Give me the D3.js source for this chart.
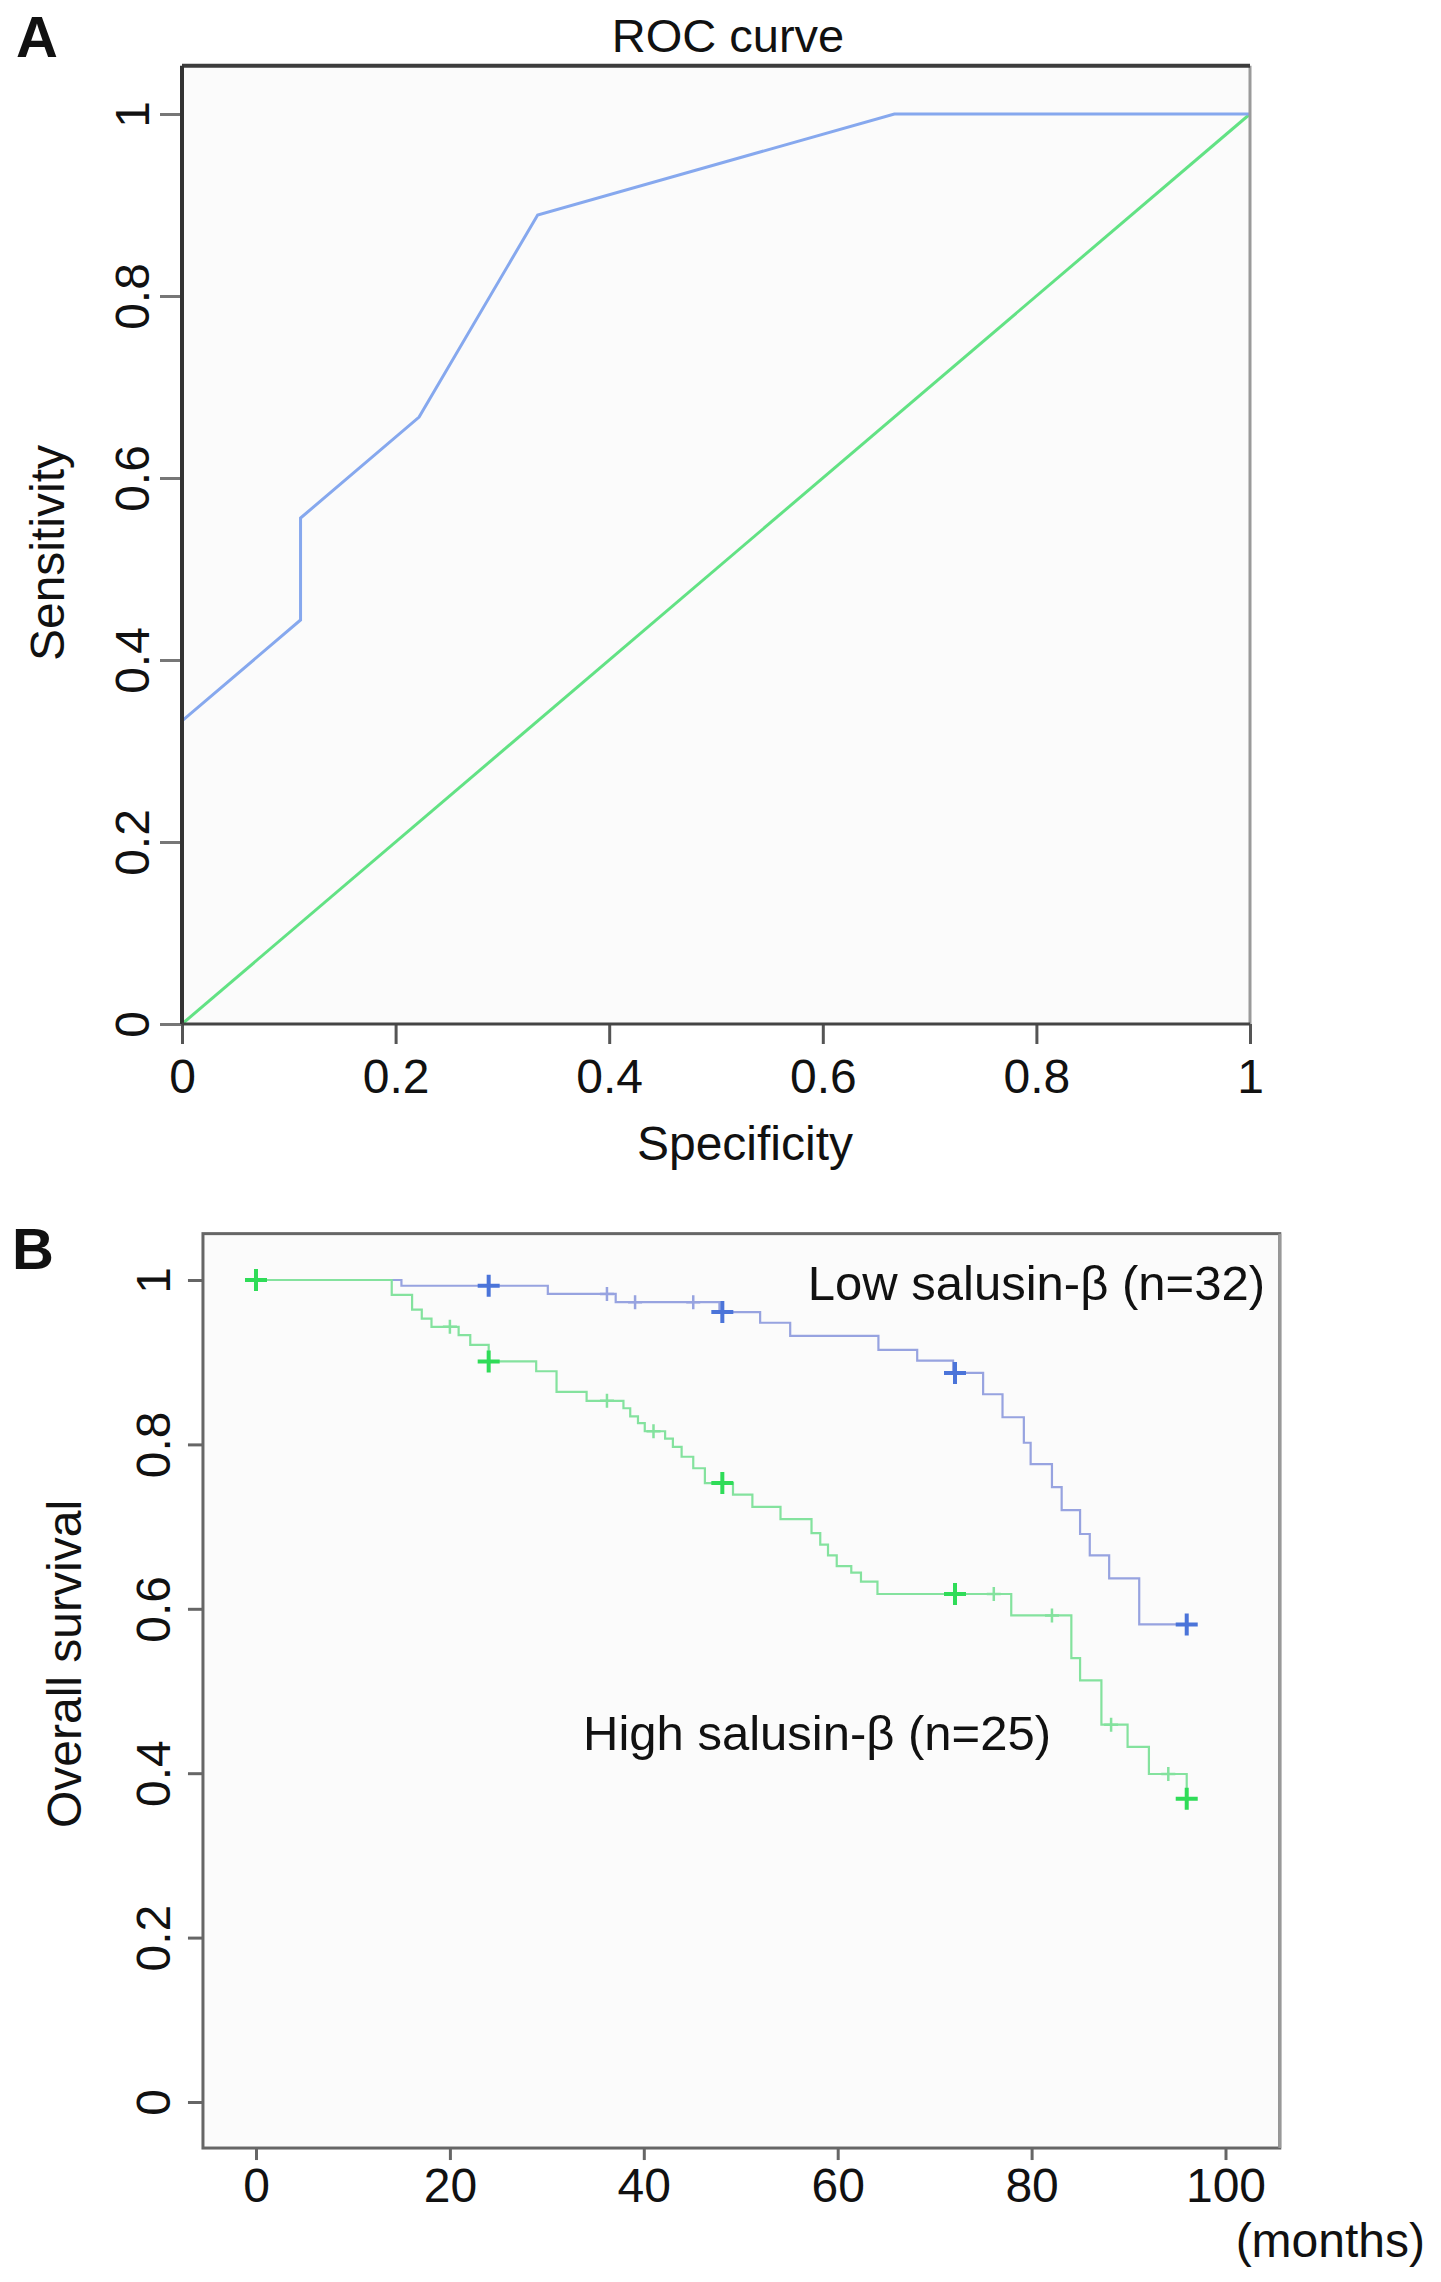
<!DOCTYPE html>
<html>
<head>
<meta charset="utf-8">
<script src="https://cdn.jsdelivr.net/npm/d3@7"></script>
<style>
    body { margin: 0; background: #ffffff; }
    text { font-family: "Liberation Sans", Arial, sans-serif; fill: #111; }
</style>
</head>
<body>
<script>
// ROC curve points (panel A)
var rocSpecificity = [0, 0, 0.111, 0.111, 0.222, 0.333, 0.667, 1];
var rocSensitivity = [0, 0.333, 0.444, 0.556, 0.667, 0.889, 1, 1];
var refSpecificity = [0, 1];
var refSensitivity = [0, 1];
var rocTicks = [0, 0.2, 0.4, 0.6, 0.8, 1];
var rocTickLabels = ["0", "0.2", "0.4", "0.6", "0.8", "1"];

// Kaplan-Meier steps (panel B)
var lowTimes = [0, 15.0, 30.1, 37.1, 47.8, 52.0, 55.1, 64.2, 68.2, 71.9, 75.0, 77.0, 79.2, 79.9, 82.1, 83.1, 85.0, 86.0, 88.0, 91.1, 96];
var lowSurv  = [1, 0.993, 0.983, 0.973, 0.961, 0.948, 0.932, 0.915, 0.902, 0.887, 0.861, 0.833, 0.802, 0.776, 0.748, 0.720, 0.691, 0.665, 0.637, 0.581, 0.581];
var lowCensor = [24, 36.2, 39.1, 45.1, 48.1, 72.1, 96];
var lowCensorBig = [true, false, false, false, true, true, true];

var highTimes = [0, 14.0, 16.1, 17.1, 18.1, 20.9, 22.1, 24.0, 28.9, 31.0, 34.1, 37.9, 38.6, 39.4, 40.1, 42.2, 43.0, 43.9, 45.1, 46.3,
                 49.2, 51.2, 54.1, 57.3, 58.2, 59.0, 59.9, 61.4, 62.4, 64.1, 77.9, 84.1, 85.0, 87.2, 89.9, 92.1, 96.0];
var highSurv  = [1, 0.982, 0.964, 0.953, 0.943, 0.933, 0.921, 0.901, 0.889, 0.864, 0.853, 0.844, 0.834, 0.826, 0.816, 0.807, 0.797, 0.785, 0.771, 0.753,
                 0.739, 0.724, 0.709, 0.692, 0.678, 0.665, 0.652, 0.644, 0.633, 0.618, 0.592, 0.540, 0.513, 0.459, 0.432, 0.399, 0.369];
var highCensor = [0, 20.0, 24.0, 36.2, 41.0, 48.1, 72.1, 76.1, 82.1, 88.2, 94.1, 96];
var highCensorBig = [true, false, true, false, false, true, true, false, false, false, false, true];

var kmTicksX = [0, 20, 40, 60, 80, 100];
var kmTicksY = [0, 0.2, 0.4, 0.6, 0.8, 1];
var kmTickLabelsY = ["0", "0.2", "0.4", "0.6", "0.8", "1"];

window.onload = draw();

function draw(){

    var svg = d3.select("body")
        .append("svg")
        .attr("width", 1441)
        .attr("height", 2282);

    svg.append("rect")
        .attr("width", 1441)
        .attr("height", 2282)
        .attr("fill", "#ffffff");

    drawRoc(svg);
    drawSurvival(svg);
}

// Panel A: ROC curve
function drawRoc(svg){

    var x = d3.scaleLinear().domain([0, 1]).range([182, 1250]);
    var y = d3.scaleLinear().domain([0, 1]).range([1024, 114]);
    var yTop = 1.053;

    // plot background
    svg.append("rect")
        .attr("x", x(0))
        .attr("y", y(yTop))
        .attr("width", x(1) - x(0))
        .attr("height", y(0) - y(yTop))
        .attr("fill", "#fbfbfb");

    // axes (ticks + rotated labels)
    var yAxis = svg.append("g")
        .attr("transform", "translate(" + x(0) + ",0)")
        .call(d3.axisLeft(y).tickValues(rocTicks).tickSize(22)
            .tickFormat(function(d, i){ return rocTickLabels[i]; }));
    yAxis.select(".domain").remove();
    yAxis.selectAll("line").attr("stroke", "#777").attr("stroke-width", 3);
    yAxis.selectAll("text")
        .attr("transform", "rotate(-90)")
        .attr("x", 0).attr("y", -33).attr("dy", 0)
        .attr("text-anchor", "middle")
        .style("font-size", "48px");

    var xAxis = svg.append("g")
        .attr("transform", "translate(0," + y(0) + ")")
        .call(d3.axisBottom(x).tickValues(rocTicks).tickSize(20)
            .tickFormat(function(d, i){ return rocTickLabels[i]; }));
    xAxis.select(".domain").remove();
    xAxis.selectAll("line").attr("stroke", "#555").attr("stroke-width", 3);
    xAxis.selectAll("text")
        .attr("y", 69).attr("dy", 0)
        .style("font-size", "48px");

    // lines
    var line = d3.line()
        .x(function(d){ return x(d[0]); })
        .y(function(d){ return y(d[1]); });

    svg.append("path")
        .datum(d3.zip(refSpecificity, refSensitivity))
        .attr("d", line)
        .attr("fill", "none")
        .attr("stroke", "#62e284")
        .attr("stroke-width", 3);

    svg.append("path")
        .datum(d3.zip(rocSpecificity, rocSensitivity))
        .attr("d", line)
        .attr("fill", "none")
        .attr("stroke", "#86a8ee")
        .attr("stroke-width", 3);

    // frame
    svg.append("line").attr("x1", x(1)).attr("x2", x(1)).attr("y1", y(yTop)).attr("y2", y(0))
        .attr("stroke", "#9a9a9a").attr("stroke-width", 3);
    svg.append("line").attr("x1", x(0)).attr("x2", x(1)).attr("y1", y(yTop)).attr("y2", y(yTop))
        .attr("stroke", "#3c3c3c").attr("stroke-width", 4);
    svg.append("line").attr("x1", x(0)).attr("x2", x(0)).attr("y1", y(yTop)).attr("y2", y(0))
        .attr("stroke", "#333").attr("stroke-width", 4);
    svg.append("line").attr("x1", x(0)).attr("x2", x(1)).attr("y1", y(0)).attr("y2", y(0))
        .attr("stroke", "#444").attr("stroke-width", 3);

    // labels
    svg.append("text").attr("x", 16).attr("y", 57)
        .style("font-size", "58px").style("font-weight", "bold").text("A");
    svg.append("text").attr("x", 728).attr("y", 52)
        .attr("text-anchor", "middle").style("font-size", "47px").text("ROC curve");
    svg.append("text").attr("x", 745).attr("y", 1160)
        .attr("text-anchor", "middle").style("font-size", "48px").text("Specificity");
    svg.append("text")
        .attr("transform", "translate(64,553) rotate(-90)")
        .attr("text-anchor", "middle").style("font-size", "48px").text("Sensitivity");
}

// Panel B: Kaplan-Meier curves
function drawSurvival(svg){

    var x = d3.scaleLinear().domain([0, 100]).range([256, 1225.5]);
    var y = d3.scaleLinear().domain([0, 1]).range([2102, 1280]);
    var xMin = -5.47, xMax = 105.6, yMin = -0.056, yMax = 1.0564;

    svg.append("rect")
        .attr("x", x(xMin))
        .attr("y", y(yMax))
        .attr("width", x(xMax) - x(xMin))
        .attr("height", y(yMin) - y(yMax))
        .attr("fill", "#fbfbfb");

    var yAxis = svg.append("g")
        .attr("transform", "translate(" + x(xMin) + ",0)")
        .call(d3.axisLeft(y).tickValues(kmTicksY).tickSize(15)
            .tickFormat(function(d, i){ return kmTickLabelsY[i]; }));
    yAxis.select(".domain").remove();
    yAxis.selectAll("line").attr("stroke", "#666").attr("stroke-width", 3);
    yAxis.selectAll("text")
        .attr("transform", "rotate(-90)")
        .attr("x", 0).attr("y", -33).attr("dy", 0)
        .attr("text-anchor", "middle")
        .style("font-size", "48px");

    var xAxis = svg.append("g")
        .attr("transform", "translate(0," + y(yMin) + ")")
        .call(d3.axisBottom(x).tickValues(kmTicksX).tickSize(12));
    xAxis.select(".domain").remove();
    xAxis.selectAll("line").attr("stroke", "#666").attr("stroke-width", 3);
    xAxis.selectAll("text")
        .attr("y", 54).attr("dy", 0)
        .style("font-size", "48px");

    var step = d3.line()
        .curve(d3.curveStepAfter)
        .x(function(d){ return x(d[0]); })
        .y(function(d){ return y(d[1]); });

    // survival value at a time, read from the step arrays
    function survAt(times, surv, t){
        var i = d3.bisectRight(times, t) - 1;
        return surv[Math.max(i, 0)];
    }

    function drawGroup(times, surv, censor, big, lineColor, markColor){
        svg.append("path")
            .datum(d3.zip(times, surv))
            .attr("d", step)
            .attr("fill", "none")
            .attr("stroke", lineColor)
            .attr("stroke-width", 2.2);

        svg.selectAll(null)
            .data(censor)
            .enter()
            .append("path")
            .attr("d", function(d, i){
                var cx = x(d), cy = y(survAt(times, surv, d)), r = big[i] ? 11 : 7;
                return "M" + (cx - r) + "," + cy + "H" + (cx + r) + "M" + cx + "," + (cy - r) + "V" + (cy + r);
            })
            .attr("stroke", function(d, i){ return big[i] ? markColor : lineColor; })
            .attr("stroke-width", function(d, i){ return big[i] ? 4 : 2.5; });
    }

    drawGroup(lowTimes, lowSurv, lowCensor, lowCensorBig, "#97a3e0", "#4b74d9");
    drawGroup(highTimes, highSurv, highCensor, highCensorBig, "#84e29e", "#2fdc58");

    // frame
    svg.append("rect")
        .attr("x", x(xMin))
        .attr("y", y(yMax))
        .attr("width", x(xMax) - x(xMin))
        .attr("height", y(yMin) - y(yMax))
        .attr("fill", "none")
        .attr("stroke", "#666")
        .attr("stroke-width", 3);
    svg.append("line").attr("x1", x(xMax)).attr("x2", x(xMax)).attr("y1", y(yMax)).attr("y2", y(yMin))
        .attr("stroke", "#999").attr("stroke-width", 3);

    // labels
    svg.append("text").attr("x", 12).attr("y", 1269)
        .style("font-size", "58px").style("font-weight", "bold").text("B");
    svg.append("text").attr("x", 1265).attr("y", 1300)
        .attr("text-anchor", "end").style("font-size", "49px").text("Low salusin-β (n=32)");
    svg.append("text").attr("x", 583).attr("y", 1750)
        .style("font-size", "49px").text("High salusin-β (n=25)");
    svg.append("text").attr("x", 1425).attr("y", 2257)
        .attr("text-anchor", "end").style("font-size", "48px").text("(months)");
    svg.append("text")
        .attr("transform", "translate(81,1664) rotate(-90)")
        .attr("text-anchor", "middle").style("font-size", "48px").text("Overall survival");
}
</script>
</body>
</html>
